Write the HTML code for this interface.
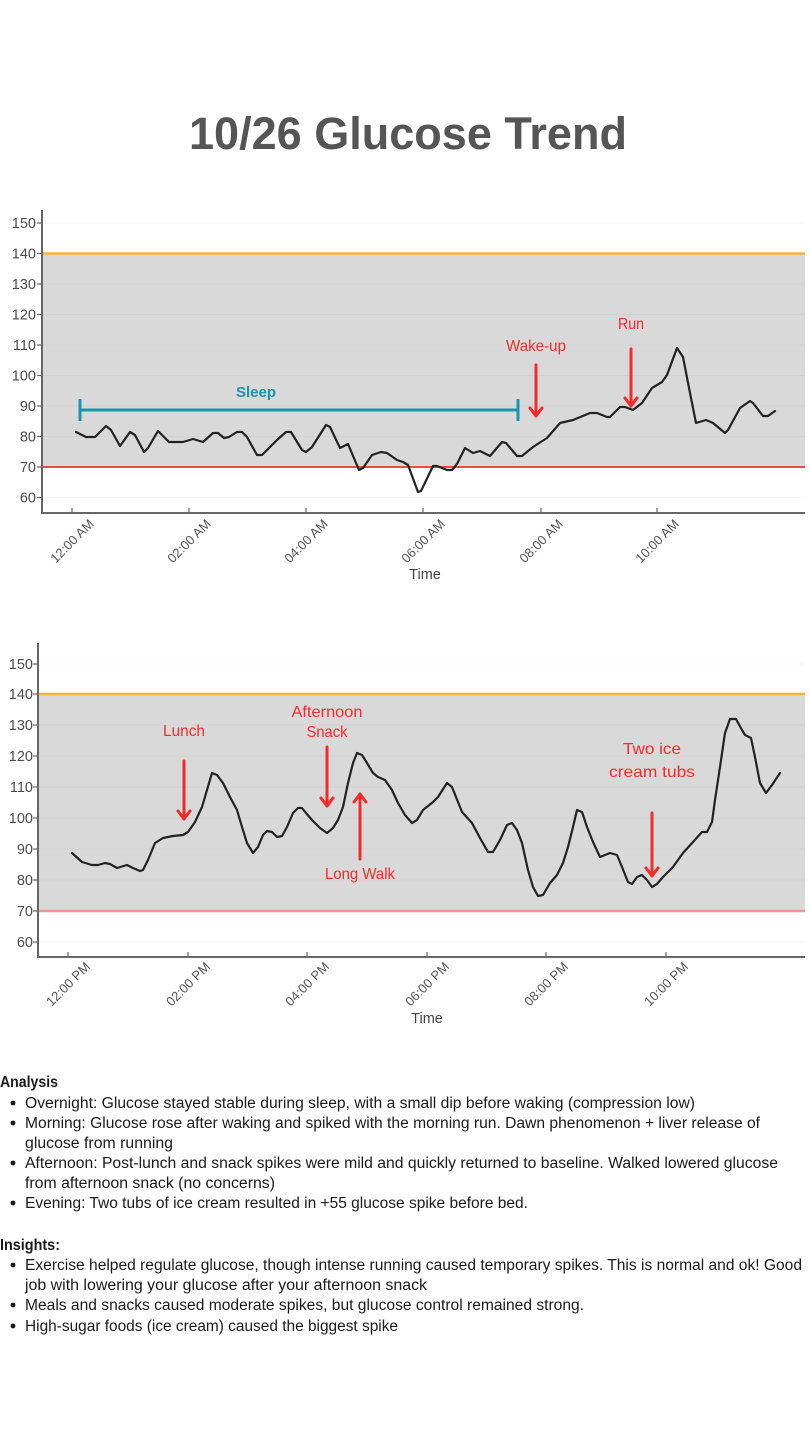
<!DOCTYPE html>
<html>
<head>
<meta charset="utf-8">
<style>
html,body{margin:0;padding:0;background:#fff;}
svg{display:block;}
text{font-family:"Liberation Sans",sans-serif;}
</style>
</head>
<body>
<svg width="810" height="1440" viewBox="0 0 810 1440" xmlns="http://www.w3.org/2000/svg">
<rect width="810" height="1440" fill="#fff"/>

<!-- Title -->
<text x="408" y="149" text-anchor="middle" font-size="45" font-weight="bold" fill="#555" textLength="438" lengthAdjust="spacingAndGlyphs">10/26 Glucose Trend</text>

<!-- ================= TOP CHART ================= -->
<g>
  <rect x="42" y="253.5" width="763" height="213.5" fill="#d9d9d9"/>
  <g stroke="#000" stroke-opacity="0.03" stroke-width="1">
    <line x1="42" y1="223" x2="805" y2="223"/>
    <line x1="42" y1="284" x2="805" y2="284"/>
    <line x1="42" y1="314.5" x2="805" y2="314.5"/>
    <line x1="42" y1="345" x2="805" y2="345"/>
    <line x1="42" y1="375.5" x2="805" y2="375.5"/>
    <line x1="42" y1="406" x2="805" y2="406"/>
    <line x1="42" y1="436.5" x2="805" y2="436.5"/>
    <line x1="42" y1="497.5" x2="805" y2="497.5"/>
  </g>
  <line x1="42" y1="253.5" x2="805" y2="253.5" stroke="#f5b43a" stroke-width="2.5"/>
  <line x1="42" y1="467" x2="805" y2="467" stroke="#f04a4a" stroke-width="2"/>
  <line x1="42" y1="210" x2="42" y2="514" stroke="#666" stroke-width="2"/>
  <line x1="41" y1="513" x2="805" y2="513" stroke="#666" stroke-width="2"/>
  <g stroke="#666" stroke-width="1.2">
    <line x1="37" y1="223" x2="42" y2="223"/><line x1="37" y1="253.5" x2="42" y2="253.5"/>
    <line x1="37" y1="284" x2="42" y2="284"/><line x1="37" y1="314.5" x2="42" y2="314.5"/>
    <line x1="37" y1="345" x2="42" y2="345"/><line x1="37" y1="375.5" x2="42" y2="375.5"/>
    <line x1="37" y1="406" x2="42" y2="406"/><line x1="37" y1="436.5" x2="42" y2="436.5"/>
    <line x1="37" y1="467" x2="42" y2="467"/><line x1="37" y1="497.5" x2="42" y2="497.5"/>
  </g>
  <g font-size="14.5" fill="#4d4d4d" text-anchor="end">
    <text x="36" y="228">150</text><text x="36" y="258.5">140</text>
    <text x="36" y="289">130</text><text x="36" y="319.5">120</text>
    <text x="36" y="350">110</text><text x="36" y="380.5">100</text>
    <text x="36" y="411">90</text><text x="36" y="441.5">80</text>
    <text x="36" y="472">70</text><text x="36" y="502.5">60</text>
  </g>
  <g stroke="#666" stroke-width="1.2">
    <line x1="72" y1="508" x2="72" y2="513"/><line x1="189" y1="508" x2="189" y2="513"/>
    <line x1="306" y1="508" x2="306" y2="513"/><line x1="423" y1="508" x2="423" y2="513"/>
    <line x1="541" y1="508" x2="541" y2="513"/><line x1="657" y1="508" x2="657" y2="513"/>
  </g>
  <g font-size="13" fill="#555" text-anchor="middle" dominant-baseline="central">
    <text transform="translate(72,541) rotate(-45)">12:00 AM</text>
    <text transform="translate(189,541) rotate(-45)">02:00 AM</text>
    <text transform="translate(306,541) rotate(-45)">04:00 AM</text>
    <text transform="translate(423,541) rotate(-45)">06:00 AM</text>
    <text transform="translate(541,541) rotate(-45)">08:00 AM</text>
    <text transform="translate(657,541) rotate(-45)">10:00 AM</text>
  </g>
  <text x="425" y="579" font-size="14.5" fill="#444" text-anchor="middle">Time</text>

  <g stroke="#1a93ad" stroke-width="3">
    <line x1="80" y1="410" x2="518" y2="410"/>
    <line x1="80" y1="399" x2="80" y2="421"/>
    <line x1="518" y1="399" x2="518" y2="421"/>
  </g>
  <text x="256" y="397" font-size="15" font-weight="bold" fill="#1a93ad" text-anchor="middle" textLength="40" lengthAdjust="spacingAndGlyphs">Sleep</text>

  <polyline fill="none" stroke="#222" stroke-width="2.2" stroke-linejoin="round" stroke-linecap="round"
   points="76,432 86,437 95,437 106,426 111,430 120,446 130,432 135,435 144,452 148,448 158,431 169,442 183,442 193,439 203,442 213,433 218,433 224,438 229,437 237,432 242,432 247,437 257,455 262,455 277,440 286,432 291,432 302,450 306,452 312,447 326,425 330,427 340,448 348,444 359,470 363,468 372,455 381,452 387,453 397,460 403,462 408,465 418,492 421,491 433,466 437,466 447,470 452,470 457,464 465,448 473,453 480,451 490,456 502,442 506,443 517,456 522,456 533,447 547,438 560,423 573,420 590,413 597,413 607,417 610,417 620,407 625,407 633,410 642,403 652,388 662,382 667,375 677,348 683,357 690,393 696,423 706,420 713,423 725,433 728,430 740,408 750,401 753,403 763,416 768,416 775,411"/>

  <g stroke="#f52a2a" stroke-width="3" fill="none" stroke-linecap="round" stroke-linejoin="round">
    <line x1="536" y1="365" x2="536" y2="416"/>
    <polyline points="530,408 536,416 542,408"/>
    <line x1="631" y1="349" x2="631" y2="406"/>
    <polyline points="625,398 631,406 637,398"/>
  </g>
  <g font-size="16" fill="#f52a2a" text-anchor="middle">
    <text x="536" y="351" textLength="60" lengthAdjust="spacingAndGlyphs">Wake-up</text>
    <text x="631" y="329" textLength="26" lengthAdjust="spacingAndGlyphs">Run</text>
  </g>
</g>

<!-- ================= BOTTOM CHART ================= -->
<g>
  <rect x="38" y="694" width="767" height="217" fill="#d9d9d9"/>
  <g stroke="#000" stroke-opacity="0.03" stroke-width="1">
    <line x1="38" y1="664" x2="805" y2="664"/>
    <line x1="38" y1="725" x2="805" y2="725"/>
    <line x1="38" y1="756" x2="805" y2="756"/>
    <line x1="38" y1="787" x2="805" y2="787"/>
    <line x1="38" y1="818" x2="805" y2="818"/>
    <line x1="38" y1="849" x2="805" y2="849"/>
    <line x1="38" y1="880" x2="805" y2="880"/>
    <line x1="38" y1="942" x2="805" y2="942"/>
  </g>
  <line x1="38" y1="694" x2="805" y2="694" stroke="#f5b43a" stroke-width="2.5"/>
  <line x1="38" y1="911" x2="805" y2="911" stroke="#f29494" stroke-width="2.5"/>
  <line x1="38" y1="643" x2="38" y2="958" stroke="#666" stroke-width="2"/>
  <line x1="37" y1="957" x2="805" y2="957" stroke="#666" stroke-width="2"/>
  <g stroke="#666" stroke-width="1.2">
    <line x1="33" y1="664" x2="38" y2="664"/><line x1="33" y1="694" x2="38" y2="694"/>
    <line x1="33" y1="725" x2="38" y2="725"/><line x1="33" y1="756" x2="38" y2="756"/>
    <line x1="33" y1="787" x2="38" y2="787"/><line x1="33" y1="818" x2="38" y2="818"/>
    <line x1="33" y1="849" x2="38" y2="849"/><line x1="33" y1="880" x2="38" y2="880"/>
    <line x1="33" y1="911" x2="38" y2="911"/><line x1="33" y1="942" x2="38" y2="942"/>
  </g>
  <g font-size="14.5" fill="#4d4d4d" text-anchor="end">
    <text x="33" y="669">150</text><text x="33" y="699">140</text>
    <text x="33" y="730">130</text><text x="33" y="761">120</text>
    <text x="33" y="792">110</text><text x="33" y="823">100</text>
    <text x="33" y="854">90</text><text x="33" y="885">80</text>
    <text x="33" y="916">70</text><text x="33" y="947">60</text>
  </g>
  <g stroke="#666" stroke-width="1.2">
    <line x1="68" y1="952" x2="68" y2="957"/><line x1="188" y1="952" x2="188" y2="957"/>
    <line x1="307" y1="952" x2="307" y2="957"/><line x1="427" y1="952" x2="427" y2="957"/>
    <line x1="546" y1="952" x2="546" y2="957"/><line x1="666" y1="952" x2="666" y2="957"/>
  </g>
  <g font-size="13" fill="#555" text-anchor="middle" dominant-baseline="central">
    <text transform="translate(68,984) rotate(-45)">12:00 PM</text>
    <text transform="translate(188,984) rotate(-45)">02:00 PM</text>
    <text transform="translate(307,984) rotate(-45)">04:00 PM</text>
    <text transform="translate(427,984) rotate(-45)">06:00 PM</text>
    <text transform="translate(546,984) rotate(-45)">08:00 PM</text>
    <text transform="translate(666,984) rotate(-45)">10:00 PM</text>
  </g>
  <text x="427" y="1023" font-size="14.5" fill="#444" text-anchor="middle">Time</text>

  <polyline fill="none" stroke="#222" stroke-width="2.2" stroke-linejoin="round" stroke-linecap="round"
   points="72,853 82,862 92,865 98,865 105,863 110,864 117,868 127,865 133,868 140,871 143,870 148,860 155,843 163,838 173,836 183,835 188,832 195,822 202,807 207,790 212,773 217,775 223,783 230,797 237,810 242,827 247,843 253,853 258,847 263,835 267,831 272,832 277,837 282,836 287,827 293,813 298,808 302,808 306,813 312,820 320,828 327,833 333,828 338,820 343,807 348,783 353,763 357,753 362,755 367,763 373,773 378,777 385,780 392,790 398,803 405,815 412,823 417,820 423,810 433,802 438,797 447,783 452,787 462,812 472,823 480,838 488,852 493,852 500,840 507,825 512,823 517,830 522,843 528,870 533,887 538,896 543,895 550,883 557,875 563,863 568,847 573,827 577,810 582,812 587,827 593,842 600,857 605,855 610,853 617,855 622,867 628,882 632,884 637,877 642,875 647,880 652,887 657,884 663,877 673,867 683,853 693,842 702,832 707,832 712,822 715,800 720,767 725,733 730,719 736,719 742,730 745,735 751,738 755,757 760,783 766,793 772,785 780,773"/>

  <g stroke="#f52a2a" stroke-width="3" fill="none" stroke-linecap="round" stroke-linejoin="round">
    <line x1="184" y1="761" x2="184" y2="819"/>
    <polyline points="178,811 184,819 190,811"/>
    <line x1="327" y1="747" x2="327" y2="806"/>
    <polyline points="321,798 327,806 333,798"/>
    <line x1="360" y1="859" x2="360" y2="794"/>
    <polyline points="354,802 360,794 366,802"/>
    <line x1="652" y1="813" x2="652" y2="876"/>
    <polyline points="646,868 652,876 658,868"/>
  </g>
  <g font-size="16" fill="#f52a2a" text-anchor="middle">
    <text x="184" y="736" textLength="42" lengthAdjust="spacingAndGlyphs">Lunch</text>
    <text x="327" y="717" textLength="71" lengthAdjust="spacingAndGlyphs">Afternoon</text>
    <text x="327" y="737" textLength="41" lengthAdjust="spacingAndGlyphs">Snack</text>
    <text x="360" y="879" textLength="70" lengthAdjust="spacingAndGlyphs">Long Walk</text>
    <text x="652" y="754" textLength="58" lengthAdjust="spacingAndGlyphs">Two ice</text>
    <text x="652" y="777" textLength="86" lengthAdjust="spacingAndGlyphs">cream tubs</text>
  </g>
</g>

<!-- ================= TEXT ================= -->
<g font-size="15.5" fill="#1a1a1a">
  <text x="0" y="1087" font-weight="bold" textLength="58" lengthAdjust="spacingAndGlyphs">Analysis</text>
  <circle cx="13" cy="1103" r="2.4" fill="#1a1a1a"/>
  <text x="25" y="1108" textLength="670" lengthAdjust="spacingAndGlyphs">Overnight: Glucose stayed stable during sleep, with a small dip before waking (compression low)</text>
  <circle cx="13" cy="1123" r="2.4" fill="#1a1a1a"/>
  <text x="25" y="1128" textLength="735" lengthAdjust="spacingAndGlyphs">Morning: Glucose rose after waking and spiked with the morning run. Dawn phenomenon + liver release of</text>
  <text x="25" y="1148" textLength="148" lengthAdjust="spacingAndGlyphs">glucose from running</text>
  <circle cx="13" cy="1163" r="2.4" fill="#1a1a1a"/>
  <text x="25" y="1168" textLength="753" lengthAdjust="spacingAndGlyphs">Afternoon: Post-lunch and snack spikes were mild and quickly returned to baseline. Walked lowered glucose</text>
  <text x="25" y="1188" textLength="250" lengthAdjust="spacingAndGlyphs">from afternoon snack (no concerns)</text>
  <circle cx="13" cy="1203" r="2.4" fill="#1a1a1a"/>
  <text x="25" y="1208" textLength="503" lengthAdjust="spacingAndGlyphs">Evening: Two tubs of ice cream resulted in +55 glucose spike before bed.</text>

  <text x="0" y="1250" font-weight="bold" textLength="60" lengthAdjust="spacingAndGlyphs">Insights:</text>
  <circle cx="13" cy="1265" r="2.4" fill="#1a1a1a"/>
  <text x="25" y="1270" textLength="777" lengthAdjust="spacingAndGlyphs">Exercise helped regulate glucose, though intense running caused temporary spikes. This is normal and ok! Good</text>
  <text x="25" y="1290" textLength="402" lengthAdjust="spacingAndGlyphs">job with lowering your glucose after your afternoon snack</text>
  <circle cx="13" cy="1305" r="2.4" fill="#1a1a1a"/>
  <text x="25" y="1310" textLength="559" lengthAdjust="spacingAndGlyphs">Meals and snacks caused moderate spikes, but glucose control remained strong.</text>
  <circle cx="13" cy="1326" r="2.4" fill="#1a1a1a"/>
  <text x="25" y="1331" textLength="373" lengthAdjust="spacingAndGlyphs">High-sugar foods (ice cream) caused the biggest spike</text>
</g>
</svg>
</body>
</html>
